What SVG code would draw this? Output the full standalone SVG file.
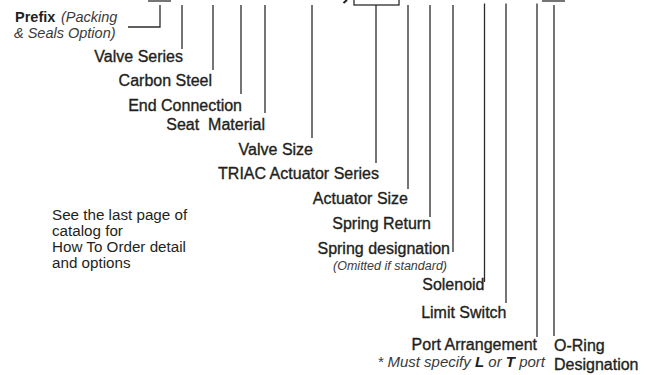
<svg xmlns="http://www.w3.org/2000/svg" width="660" height="375" viewBox="0 0 660 375">
<style>
.bg{fill:#ffffff}
.ln{fill:none;stroke:#2b2b2b;stroke-width:1.3}
.lb{font-family:"Liberation Sans",Arial,sans-serif;font-size:16px;fill:#231f20;stroke:#231f20;stroke-width:0.35;text-anchor:end}
.lbs{font-family:"Liberation Sans",Arial,sans-serif;font-size:16px;fill:#231f20;stroke:#231f20;stroke-width:0.35}
.it{font-family:"Liberation Sans",Arial,sans-serif;font-style:italic;fill:#3a3a3a}
.note{font-family:"Liberation Sans",Arial,sans-serif;font-size:15.2px;fill:#231f20}
</style>
<rect class="bg" x="0" y="0" width="660" height="375"/>
<g id="top">
<line class="ln" x1="148" y1="1" x2="171" y2="1"/>
<rect class="ln" x="354" y="-20" width="45" height="25"/>
<line x1="347" y1="0" x2="343.5" y2="3" stroke="#231f20" stroke-width="2"/>
<line class="ln" x1="542" y1="1" x2="565" y2="1"/>
</g>
<g id="connectors">
<path class="ln" d="M160,5 V27 H128"/>
<line class="ln" x1="182" y1="5" x2="182" y2="49"/>
<line class="ln" x1="213" y1="5" x2="213" y2="70"/>
<line class="ln" x1="241" y1="5" x2="241" y2="94"/>
<line class="ln" x1="265" y1="5" x2="265" y2="113"/>
<line class="ln" x1="312" y1="5" x2="312" y2="138"/>
<line class="ln" x1="376" y1="5" x2="376" y2="163"/>
<line class="ln" x1="408" y1="5" x2="408" y2="189"/>
<line class="ln" x1="430" y1="5" x2="430" y2="217"/>
<line class="ln" x1="453" y1="5" x2="453" y2="252"/>
<line class="ln" x1="484.5" y1="3.5" x2="484.5" y2="282"/>
<line class="ln" x1="506" y1="3.5" x2="506" y2="303"/>
<line class="ln" x1="537" y1="3.5" x2="537" y2="337"/>
<line class="ln" x1="554" y1="5" x2="554" y2="336"/>
</g>
<g id="prefix">
<text x="15" y="21.5" font-family="Liberation Sans, Arial, sans-serif" font-size="14.5" font-weight="bold" fill="#231f20">Prefix</text>
<text class="it" x="61" y="21.5" font-size="14.5">(Packing</text>
<text class="it" x="14" y="37.5" font-size="14.5">&amp; Seals Option)</text>
</g>
<g id="valve-series"><text class="lb" x="183" y="61.5">Valve Series</text></g>
<g id="carbon-steel"><text class="lb" x="212" y="86">Carbon Steel</text></g>
<g id="end-connection"><text class="lb" x="242" y="110.5">End Connection</text></g>
<g id="seat-material"><text class="lb" x="265" y="130" xml:space="preserve">Seat  Material</text></g>
<g id="valve-size"><text class="lb" x="313" y="155">Valve Size</text></g>
<g id="triac"><text class="lb" x="379" y="178.5">TRIAC Actuator Series</text></g>
<g id="actuator-size"><text class="lb" x="408" y="203.5">Actuator Size</text></g>
<g id="spring-return"><text class="lb" x="431" y="228.5">Spring Return</text></g>
<g id="spring-designation">
<text class="lb" x="450" y="253.5">Spring designation</text>
<text class="it" x="447" y="270" font-size="12.5" text-anchor="end">(Omitted if standard)</text>
</g>
<g id="solenoid"><text class="lb" x="484.5" y="290">Solenoid</text></g>
<g id="limit-switch"><text class="lb" x="506.5" y="318">Limit Switch</text></g>
<g id="port-arrangement">
<text class="lb" x="537" y="350">Port Arrangement</text>
<text class="it" x="545" y="366.5" font-size="15" text-anchor="end">* Must specify <tspan font-weight="bold" fill="#231f20">L</tspan> or <tspan font-weight="bold" fill="#231f20">T</tspan> port</text>
</g>
<g id="o-ring">
<text class="lbs" x="554" y="351">O-Ring</text>
<text class="lbs" x="554" y="369.5">Designation</text>
</g>
<g id="note">
<text class="note" x="52" y="219.5">See the last page of</text>
<text class="note" x="52" y="235.5">catalog for</text>
<text class="note" x="52" y="251.5">How To Order detail</text>
<text class="note" x="52" y="267.5">and options</text>
</g>
</svg>
